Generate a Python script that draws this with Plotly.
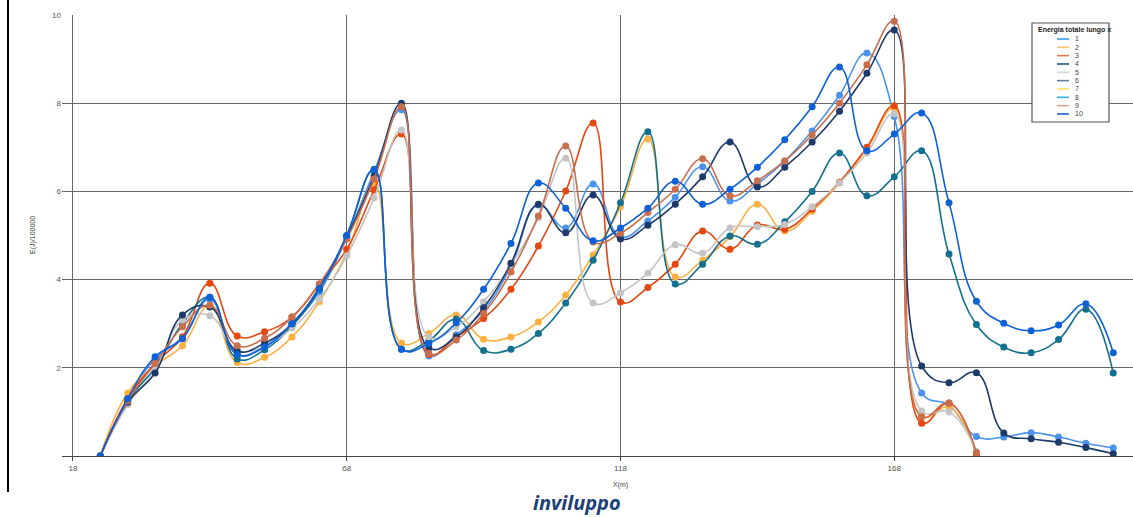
import plotly.graph_objects as go

# ---------------- data ----------------
x_m = [23, 28, 33, 38, 43, 48, 53, 58, 63, 68, 73, 78, 83, 88, 93, 98, 103, 108, 113, 118,
       123, 128, 133, 138, 143, 148, 153, 158, 163, 168, 173, 178, 183, 188, 193, 198, 203, 208]

s1 = [0, 1.30, 2.20, 2.70, 3.55, 2.30, 2.50, 3.00, 3.72, 4.95, 6.45, 7.85, 2.27, 2.75, 3.30, 4.30,
      5.69, 5.17, 6.17, 4.97, 5.33, 5.87, 6.56, 5.78, 6.17, 6.69, 7.37, 8.18, 9.14, 7.70, 1.43, 1.15,
      0.44, 0.43, 0.53, 0.43, 0.29, 0.18]
s2 = [0, 1.43, 2.05, 2.50, 3.42, 2.12, 2.24, 2.70, 3.50, 4.60, 6.15, 2.56, 2.78, 3.20, 2.65, 2.70,
      3.04, 3.65, 4.56, 5.65, 7.19, 4.06, 4.44, 4.97, 5.71, 5.10, 5.55, 6.19, 6.96, 7.89, 0.90, 1.10,
      0.05]
s3 = [0, 1.30, 2.10, 2.70, 3.92, 2.72, 2.82, 3.15, 3.90, 4.69, 6.03, 7.30, 2.30, 2.70, 3.12, 3.78,
      4.76, 6.01, 7.55, 3.49, 3.82, 4.35, 5.10, 4.69, 5.24, 5.14, 5.60, 6.21, 7.00, 7.94, 0.74, 1.20,
      0.03]
s4 = [0, 1.25, 2.00, 3.00, 3.60, 2.20, 2.41, 2.95, 3.78, 5.00, 6.50, 2.42, 2.62, 3.10, 2.39, 2.42,
      2.78, 3.47, 4.44, 5.74, 7.35, 3.90, 4.35, 4.99, 4.80, 5.31, 6.00, 6.87, 5.90, 6.33, 6.92, 4.58,
      2.98, 2.47, 2.34, 2.64, 3.33, 1.88]
s5 = [0, 1.16, 1.95, 3.08, 3.18, 2.40, 2.50, 2.90, 3.56, 4.54, 5.85, 7.39, 2.70, 2.93, 3.50, 4.33,
      5.40, 6.75, 3.47, 3.70, 4.15, 4.79, 4.60, 5.17, 5.20, 5.25, 5.65, 6.19, 6.87, 7.76, 1.02, 1.00,
      0.10]
s6 = [0, 1.22, 1.88, 3.20, 3.38, 2.38, 2.56, 3.00, 3.82, 4.95, 6.35, 8.00, 2.45, 2.70, 3.36, 4.37,
      5.71, 5.06, 5.92, 4.92, 5.23, 5.71, 6.33, 7.12, 6.10, 6.55, 7.12, 7.82, 8.68, 9.66, 2.04, 1.66,
      1.89, 0.52, 0.39, 0.31, 0.19, 0.05]
s9 = [0, 1.25, 2.10, 2.93, 3.42, 2.50, 2.67, 3.15, 3.90, 4.92, 6.28, 7.92, 2.33, 2.63, 3.23, 4.17,
      5.44, 7.03, 4.85, 5.05, 5.52, 6.05, 6.74, 5.90, 6.24, 6.69, 7.28, 8.00, 8.87, 9.86, 0.89, 1.20,
      0.08]
s10 = [0, 1.30, 2.25, 2.66, 3.60, 2.30, 2.47, 3.00, 3.80, 5.00, 6.49, 2.42, 2.55, 3.02, 3.78, 4.82,
       6.19, 5.62, 4.88, 5.17, 5.62, 6.23, 5.71, 6.05, 6.55, 7.17, 7.92, 8.82, 6.92, 7.30, 7.78, 5.74,
       3.51, 3.01, 2.84, 2.97, 3.45, 2.34]

series_names = ["1", "2", "3", "4", "5", "6", "7", "8", "9", "10"]
legend_colors = ["#3d9bf5", "#fdc46b", "#e9764f", "#1d5a82", "#d3d3d3",
                 "#6680a0", "#fde36a", "#35b0ef", "#e3a48c", "#1a5fd1"]

plotted = [("1", s1, "#4b93ec"), ("2", s2, "#fbb040"), ("3", s3, "#e4470f"),
           ("4", s4, "#14708f"), ("5", s5, "#c4c4c4"), ("6", s6, "#1d3a6b"),
           ("9", s9, "#c96e4c"), ("10", s10, "#0e60d6")]

x_ticks = [18, 68, 118, 168]
y_ticks = [2, 4, 6, 8, 10]

# ---------------- figure ----------------
W, H = 1133, 517
ML, MR, MT, MB = 62, 0, 15, 61
PW, PH = W - ML - MR, H - MT - MB


def px(xp):
    return (xp - ML) / PW


def py(yp):
    return (H - MB - yp) / PH


fig = go.Figure()
for name, vals, col in plotted:
    fig.add_trace(go.Scatter(
        x=x_m[:len(vals)], y=vals, name=name, mode="lines+markers",
        line=dict(color=col, width=1.6, shape="spline", smoothing=1.25),
        marker=dict(color=col, size=7),
        showlegend=False, hoverinfo="skip", cliponaxis=True))

grid = "#666666"
fig.update_layout(
    width=W, height=H,
    margin=dict(l=ML, r=MR, t=MT, b=MB),
    paper_bgcolor="white", plot_bgcolor="white",
    xaxis=dict(range=[16, 18 + (W - 74) / 5.47], tickvals=x_ticks,
               showgrid=True, gridcolor=grid, gridwidth=1, zeroline=False,
               showline=True, linecolor="#444", linewidth=1,
               ticks="outside", ticklen=4, tickcolor="#444",
               tickfont=dict(family="Liberation Sans, Arial", size=8, color="#555")),
    yaxis=dict(range=[0, 10], tickvals=y_ticks,
               showgrid=True, gridcolor=grid, gridwidth=1, zeroline=False,
               showline=False, ticks="",
               tickfont=dict(family="Liberation Sans, Arial", size=8, color="#555")),
    showlegend=False,
)

ann = []
shapes = []
# axis titles
ann.append(dict(text="X(m)", x=px(620), y=py(485), xref="paper", yref="paper",
                xanchor="center", yanchor="middle", showarrow=False,
                font=dict(family="Liberation Sans, Arial", size=7, color="#444")))
ann.append(dict(text="E(J)/100000", x=px(33), y=py(235), xref="paper", yref="paper",
                xanchor="center", yanchor="middle", showarrow=False, textangle=-90,
                font=dict(family="Liberation Sans, Arial", size=7, color="#444")))
# chart title
ann.append(dict(text="<b><i>inviluppo</i></b>", x=px(577), y=py(517), xref="paper", yref="paper",
                xanchor="center", yanchor="bottom", showarrow=False, borderpad=0,
                font=dict(family="Open Sans, Arial", size=20, color="#1b3f78")))

# left page rule
shapes.append(dict(type="line", xref="paper", yref="paper", x0=px(8), x1=px(8),
                   y0=py(492), y1=py(0), line=dict(color="black", width=2)))

# custom compact legend
shapes.append(dict(type="rect", xref="paper", yref="paper", x0=px(1032), x1=px(1109),
                   y0=py(122), y1=py(23), line=dict(color="#555", width=1.2),
                   fillcolor="white", layer="above"))
ann.append(dict(text="<b>Energia totale lungo x</b>", x=px(1036), y=py(30), xref="paper", yref="paper",
                xanchor="left", yanchor="middle", showarrow=False,
                font=dict(family="Liberation Sans Narrow, Liberation Sans, Arial", size=7, color="#222")))
for i, (nm, col) in enumerate(zip(series_names, legend_colors)):
    yy = 39 + i * 8.33
    shapes.append(dict(type="line", xref="paper", yref="paper", x0=px(1057), x1=px(1069),
                       y0=py(yy), y1=py(yy), line=dict(color=col, width=1.6), layer="above"))
    ann.append(dict(text=nm, x=px(1073), y=py(yy), xref="paper", yref="paper",
                    xanchor="left", yanchor="middle", showarrow=False,
                    font=dict(family="Liberation Sans, Arial", size=7, color="#444")))

fig.update_layout(annotations=ann, shapes=shapes)
fig.write_html("out.html")
